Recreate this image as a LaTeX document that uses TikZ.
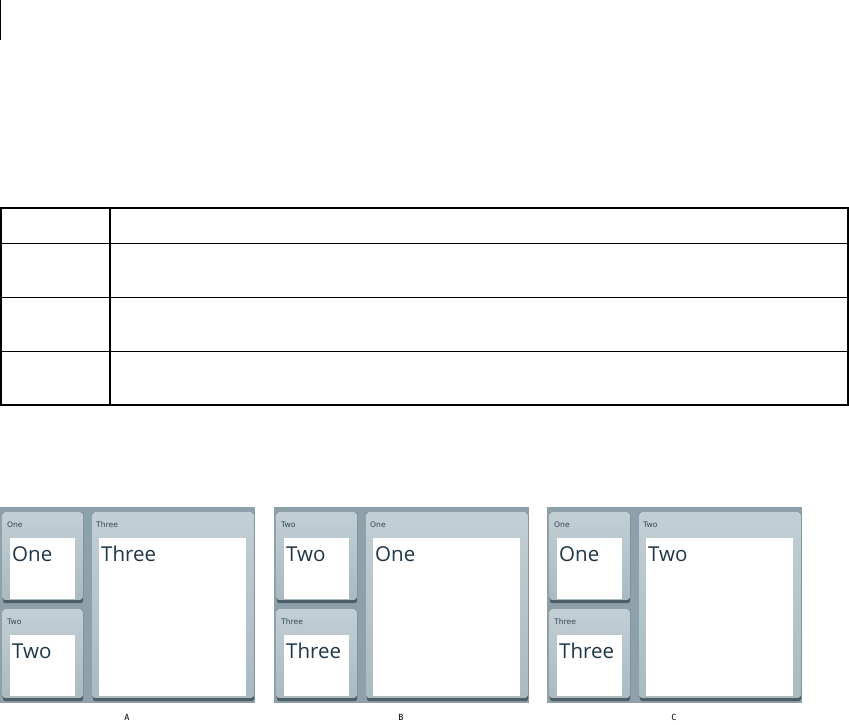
\documentclass[tikz,border=0pt]{standalone}
\usepackage{fontspec}
\newfontfamily\uifont{Open Sans}
\newfontfamily\hdfont{DejaVu Sans}
\newfontfamily\capfont{DejaVu Sans Mono}
\definecolor{bgcol}{HTML}{8EA1AA}
\definecolor{panetop}{HTML}{C2CFD5}
\definecolor{panebot}{HTML}{AABAC1}
\definecolor{shadowcol}{HTML}{4E5E66}
\definecolor{txtcol}{HTML}{1E3646}
\definecolor{hdrcol}{HTML}{34464F}
\tikzset{
  tbl/.style={line width=1.1pt, black},
  bgbox/.style={fill=bgcol},
  shad/.style={fill=shadowcol, rounded corners=2pt},
  pane/.style={rounded corners=3pt, top color=panetop, bottom color=panebot},
  whitebox/.style={fill=white},
  hdr/.style={font=\hdfont\fontsize{7.6}{9}\selectfont, text=hdrcol, anchor=base west, inner sep=0pt},
  bigtxt/.style={font=\uifont\fontsize{20.5}{24}\selectfont, text=txtcol, anchor=base west, inner sep=0pt},
  captxt/.style={font=\capfont\fontsize{8.5}{10}\selectfont, anchor=base, inner sep=0pt},
}
% #1 left offset, #2 top label, #3 bottom label, #4 big label, #5 caption
\newcommand\screenshot[5]{%
  \fill[bgbox] (#1,507) rectangle (#1+255,703);
  % top small pane
  \fill[shad] (#1+3,596) rectangle (#1+83,603);
  \fill[pane] (#1+2,512) rectangle (#1+83,600);
  \fill[whitebox] (#1+10,538) rectangle (#1+75,599);
  \node[hdr] (#5-th) at (#1+7,527) {#2};
  \node[bigtxt] (#5-tb) at (#1+12,561) {#2};
  % bottom small pane
  \fill[shad] (#1+3,694) rectangle (#1+83,701);
  \fill[pane] (#1+2,609) rectangle (#1+83,698);
  \fill[whitebox] (#1+10,635) rectangle (#1+75,696);
  \node[hdr] (#5-bh) at (#1+7,624) {#3};
  \node[bigtxt] (#5-bb) at (#1+12,658) {#3};
  % big pane
  \fill[shad] (#1+93,694) rectangle (#1+254,701);
  \fill[pane] (#1+92,512) rectangle (#1+254,698);
  \fill[whitebox] (#1+99,538) rectangle (#1+246,696);
  \node[hdr] (#5-gh) at (#1+96,527) {#4};
  \node[bigtxt] (#5-gb) at (#1+101,561) {#4};
  % caption
  \node[captxt] (#5-cap) at (#1+127,720) {#5};
}
\begin{document}
\begin{tikzpicture}[x=1pt,y=-1pt]
  \useasboundingbox (0,0) rectangle (849,725);
  \draw[line width=1pt] (0.5,0) -- (0.5,40);
  % table
  \draw[tbl] (1,208) rectangle (848,405);
  \draw[tbl] (110,208) -- (110,405);
  \draw[tbl] (1,243.3) -- (848,243.3);
  \draw[tbl] (1,297.3) -- (848,297.3);
  \draw[tbl] (1,351.3) -- (848,351.3);
  % screenshots
  \screenshot{0}{One}{Two}{Three}{A}
  \screenshot{274}{Two}{Three}{One}{B}
  \screenshot{547}{One}{Three}{Two}{C}
\end{tikzpicture}
\end{document}
